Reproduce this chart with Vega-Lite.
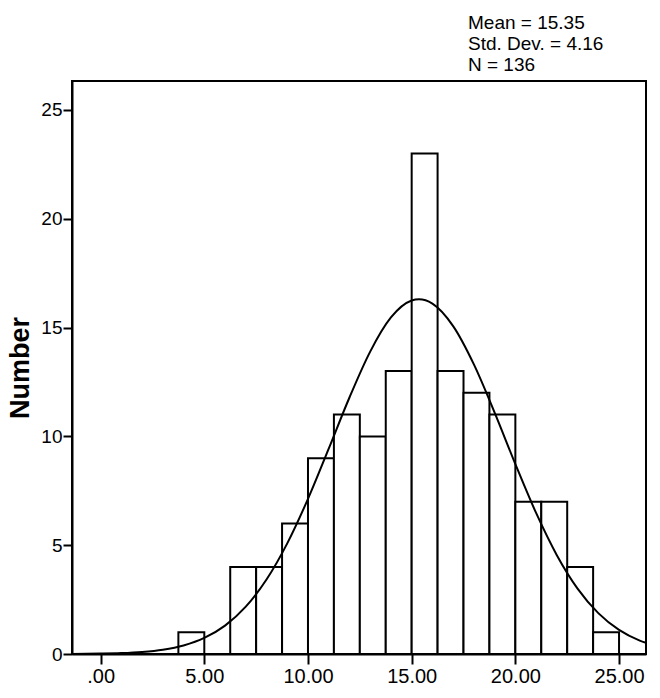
{
  "$schema": "https://vega.github.io/schema/vega-lite/v6.json",
  "autosize": "none",
  "width": 574,
  "height": 573,
  "padding": {"left": 72, "top": 81, "right": 14, "bottom": 44},
  "background": "white",
  "config": {
    "view": {"stroke": "black", "strokeWidth": 2},
    "font": "Liberation Sans",
    "axis": {
      "grid": false,
      "domainColor": "black",
      "domainWidth": 2,
      "tickColor": "black",
      "tickWidth": 2,
      "tickSize": 9,
      "labelColor": "black",
      "labelFont": "Liberation Sans",
      "labelFontSize": 20,
      "labelPadding": 2
    }
  },
  "title": {
    "text": ["Mean = 15.35", "Std. Dev. = 4.16", "N = 136"],
    "anchor": "start",
    "frame": "group",
    "align": "left",
    "dx": 396,
    "offset": 6,
    "fontSize": 19,
    "fontWeight": "normal",
    "lineHeight": 21,
    "color": "black",
    "font": "Liberation Sans"
  },
  "datasets": {
    "bins": [
      {"start": 3.75, "end": 5.0, "count": 1},
      {"start": 6.25, "end": 7.5, "count": 4},
      {"start": 7.5, "end": 8.75, "count": 4},
      {"start": 8.75, "end": 10.0, "count": 6},
      {"start": 10.0, "end": 11.25, "count": 9},
      {"start": 11.25, "end": 12.5, "count": 11},
      {"start": 12.5, "end": 13.75, "count": 10},
      {"start": 13.75, "end": 15.0, "count": 13},
      {"start": 15.0, "end": 16.25, "count": 23},
      {"start": 16.25, "end": 17.5, "count": 13},
      {"start": 17.5, "end": 18.75, "count": 12},
      {"start": 18.75, "end": 20.0, "count": 11},
      {"start": 20.0, "end": 21.25, "count": 7},
      {"start": 21.25, "end": 22.5, "count": 7},
      {"start": 22.5, "end": 23.75, "count": 4},
      {"start": 23.75, "end": 25.0, "count": 1}
    ],
    "curve": [
      {"x": -1.38, "y": 0.005},
      {"x": 0, "y": 0.018},
      {"x": 1, "y": 0.042},
      {"x": 2, "y": 0.095},
      {"x": 3, "y": 0.199},
      {"x": 4, "y": 0.394},
      {"x": 5, "y": 0.738},
      {"x": 6, "y": 1.304},
      {"x": 7, "y": 2.174},
      {"x": 8, "y": 3.422},
      {"x": 9, "y": 5.084},
      {"x": 10, "y": 7.129},
      {"x": 11, "y": 9.436},
      {"x": 12, "y": 11.787},
      {"x": 13, "y": 13.896},
      {"x": 14, "y": 15.464},
      {"x": 15, "y": 16.242},
      {"x": 15.35, "y": 16.3},
      {"x": 16, "y": 16.102},
      {"x": 17, "y": 15.067},
      {"x": 18, "y": 13.307},
      {"x": 19, "y": 11.092},
      {"x": 20, "y": 8.727},
      {"x": 21, "y": 6.481},
      {"x": 22, "y": 4.542},
      {"x": 23, "y": 3.005},
      {"x": 24, "y": 1.877},
      {"x": 25, "y": 1.106},
      {"x": 26, "y": 0.615},
      {"x": 26.3, "y": 0.51}
    ]
  },
  "layer": [
    {
      "data": {"name": "bins"},
      "mark": {"type": "rect", "fill": "white", "stroke": "black", "strokeWidth": 2},
      "encoding": {
        "x": {
          "field": "start",
          "type": "quantitative",
          "scale": {"domain": [-1.38, 26.3], "nice": false, "zero": false},
          "axis": {
            "title": null,
            "values": [0, 5, 10, 15, 20, 25],
            "tickSize": 10,
            "labelExpr": "datum.value == 0 ? '.00' : format(datum.value, '.2f')"
          }
        },
        "x2": {"field": "end"},
        "y": {
          "field": "count",
          "type": "quantitative",
          "scale": {"domain": [0, 26.33], "nice": false},
          "axis": {
            "title": "Number",
            "titleFontSize": 27,
            "titleFontWeight": "bold",
            "titleColor": "black",
            "titleFont": "Liberation Sans",
            "titlePadding": 6,
            "values": [0, 5, 10, 15, 20, 25],
            "labelFontSize": 19,
            "labelPadding": 1
          }
        },
        "y2": {"datum": 0}
      }
    },
    {
      "data": {"name": "curve"},
      "mark": {"type": "line", "color": "black", "strokeWidth": 2, "interpolate": "monotone", "clip": true},
      "encoding": {
        "x": {"field": "x", "type": "quantitative"},
        "y": {"field": "y", "type": "quantitative"}
      }
    }
  ]
}
